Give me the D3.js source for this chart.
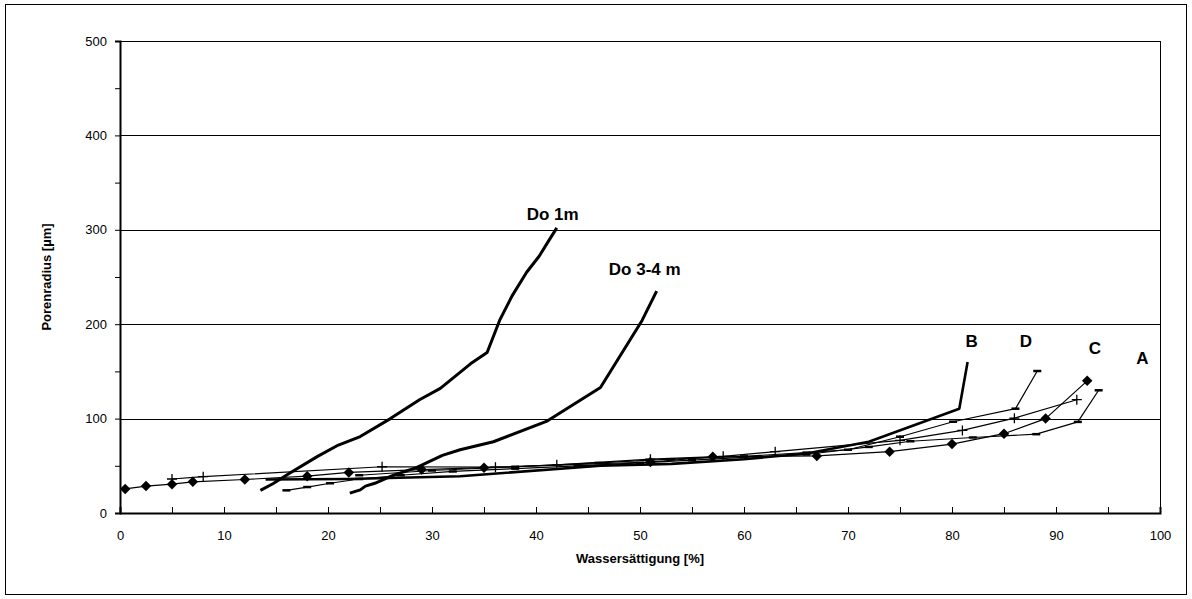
<!DOCTYPE html>
<html>
<head>
<meta charset="utf-8">
<script src="https://cdn.jsdelivr.net/npm/d3@7"></script>
<style>
body { margin: 0; background: white; }
svg { font-family: "Liberation Sans", Arial, sans-serif; }
</style>
</head>
<body>
<svg></svg>
<script>
// values: [Wassersättigung %, Porenradius µm]
var do1m = [[13.5,24],[14.7,31],[16.3,42],[19,60],[21,72],[23.1,81],[26,100],[28.8,120],[30.8,132],[33.7,158],[35.3,170],[36.5,204],[37.7,230],[39.1,255],[40.3,272],[41.2,288],[42,302]];
var do34m = [[22.1,21],[23.1,24.5],[23.6,28.5],[24.5,31.5],[26.3,40],[28.5,48],[31,61],[32.7,67],[35.9,75.5],[41,97],[46.2,133],[50.2,204],[51.6,235]];
var serB = [[14,35.5],[22,36],[32.7,39],[46.2,50],[53,52],[60,57],[66,63],[72,75.5],[80.7,110.5],[81.5,160]];
var serD = [[23,40],[30,45],[38,49],[46,53],[53,57],[60,60],[66,64],[70,67],[75,80.8],[80.1,96.7],[86.1,110.5],[88.2,150.4]];
var serC = [[0.5,25.5],[2.5,28.5],[5,30.5],[7,33],[12,35.5],[18,39],[22,43],[29,46],[35,48],[51,54],[57,59.5],[67,60.5],[74,65],[80,73],[85,84],[89,100],[93,140]];
var serPlus = [[5,36],[8,38.5],[25.2,49],[36.1,48.5],[42,51],[51,57],[58,60],[63,65],[75,77],[81,87.5],[86,100.5],[92,120]];
var serA = [[16,24],[18,27.5],[20.2,31.5],[23,36],[27,40],[32,44],[38,47],[44,50],[50,53],[55,56],[60,59],[66,62],[72,70],[76,76],[82,80],[88.1,83.5],[92.1,96.5],[94.1,130]];

var xTicks = [0,10,20,30,40,50,60,70,80,90,100];
var yTicks = [0,100,200,300,400,500];

var labels = [
	{text: "Do 1m", x: 39.1, y: 310, anchor: "start"},
	{text: "Do 3-4 m", x: 47, y: 252, anchor: "start"},
	{text: "B", x: 81.9, y: 176, anchor: "middle"},
	{text: "D", x: 87.1, y: 176, anchor: "middle"},
	{text: "C", x: 93.75, y: 168, anchor: "middle"},
	{text: "A", x: 98.3, y: 158, anchor: "middle"}
];

var width = 1192;
var height = 599;
var pLeft = 120, pRight = 1160, pTop = 41, pBottom = 513;

var svg = d3.select("svg").attr("width", width).attr("height", height);

var x = d3.scaleLinear().domain([0,100]).range([pLeft,pRight]);
var y = d3.scaleLinear().domain([0,500]).range([pBottom,pTop]);

// outer frame
svg.append("rect")
	.attr("x", 5.5).attr("y", 4.5)
	.attr("width", 1181).attr("height", 590)
	.style("fill","white")
	.style("stroke","black")
	.style("stroke-width",1);

// gridlines
svg.selectAll(".grid")
	.data(yTicks.filter(d => d>0))
	.enter().append("line")
	.attr("class","grid")
	.attr("x1", pLeft).attr("x2", pRight)
	.attr("y1", d => Math.round(y(d))+0.5)
	.attr("y2", d => Math.round(y(d))+0.5)
	.style("stroke","black")
	.style("stroke-width",1);

// right border of plot area
svg.append("line")
	.attr("x1", pRight+0.5).attr("x2", pRight+0.5)
	.attr("y1", pTop).attr("y2", pBottom)
	.style("stroke","black");

// y axis
var yAxis = d3.axisLeft(y)
	.tickValues(d3.range(0,501,50))
	.tickSize(5)
	.tickFormat(d => d%100==0 ? d : "");
var gy = svg.append("g").attr("transform","translate("+pLeft+",0)").call(yAxis);
gy.select(".domain").style("stroke-width",2);
gy.selectAll("text").style("font-size","13px").attr("x",-13).style("fill","black");

// x axis, ticks point inward
var xAxis = d3.axisBottom(x)
	.tickValues(d3.range(0,101,5))
	.tickSize(-6)
	.tickFormat(d => d%10==0 ? d : "");
var gx = svg.append("g").attr("transform","translate(0,"+pBottom+")").call(xAxis);
gx.select(".domain").style("stroke-width",2);
gx.selectAll("text").style("font-size","13px").attr("y",18).style("fill","black");

svg.append("text")
	.attr("x", (pLeft+pRight)/2).attr("y", 563)
	.attr("text-anchor","middle")
	.style("font-size","13px").style("font-weight","bold")
	.text("Wassersättigung [%]");

svg.append("text")
	.attr("transform","translate(51,"+((pTop+pBottom)/2)+") rotate(-90)")
	.attr("text-anchor","middle")
	.style("font-size","13px").style("font-weight","bold")
	.text("Porenradius [µm]");

var line = d3.line().x(d => x(d[0])).y(d => y(d[1]));

function drawLine(data, w){
	svg.append("path")
		.datum(data)
		.attr("d", line)
		.style("fill","none")
		.style("stroke","black")
		.style("stroke-width", w)
		.style("stroke-linejoin","round");
}

drawLine(serC, 1.2);
drawLine(serPlus, 1.2);
drawLine(serA, 1.2);
drawLine(serD, 1.2);
drawLine(serB, 2.6);
drawLine(do1m, 3);
drawLine(do34m, 3);

// diamond markers
svg.selectAll(".dia")
	.data(serC)
	.enter().append("path")
	.attr("class","dia")
	.attr("d", d3.symbol().type(d3.symbolDiamond2).size(70))
	.attr("transform", d => "translate("+x(d[0])+","+y(d[1])+")")
	.style("fill","black");

// plus markers
svg.selectAll(".plus")
	.data(serPlus)
	.enter().append("path")
	.attr("class","plus")
	.attr("d", "M-5,0H5M0,-5V5")
	.attr("transform", d => "translate("+x(d[0])+","+y(d[1])+")")
	.style("stroke","black")
	.style("stroke-width",1.3);

// dash markers
svg.selectAll(".dash")
	.data(serA.concat(serD))
	.enter().append("path")
	.attr("class","dash")
	.attr("d", "M-4,0H4")
	.attr("transform", d => "translate("+x(d[0])+","+y(d[1])+")")
	.style("stroke","black")
	.style("stroke-width",2.5);

svg.selectAll(".lbl")
	.data(labels)
	.enter().append("text")
	.attr("class","lbl")
	.attr("x", d => x(d.x))
	.attr("y", d => y(d.y))
	.attr("text-anchor", d => d.anchor)
	.style("font-size","17px")
	.style("font-weight","bold")
	.text(d => d.text);
</script>
</body>
</html>
